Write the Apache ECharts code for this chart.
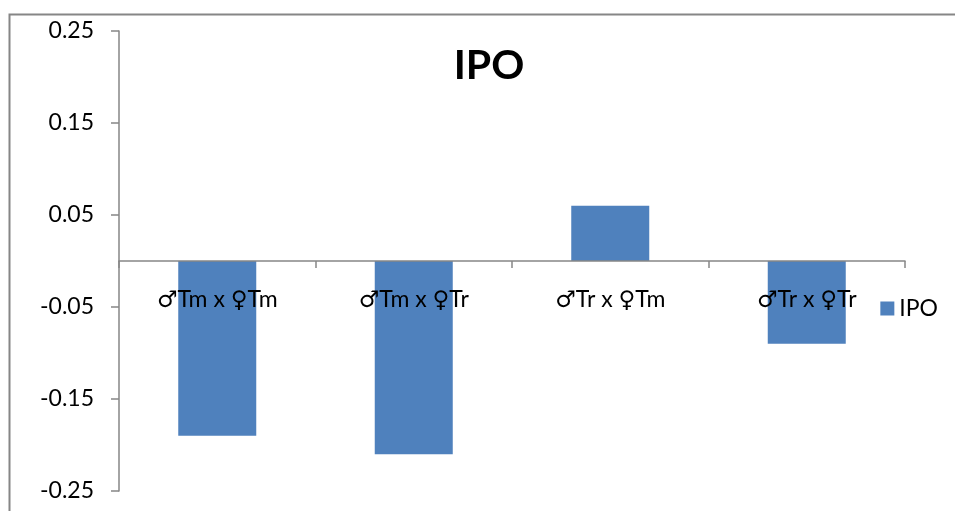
<!DOCTYPE html>
<html>
<head>
<meta charset="utf-8">
<script src="https://cdn.jsdelivr.net/npm/echarts@6/dist/echarts.min.js"></script>
<style>
  html, body { margin: 0; padding: 0; background: #fff; }
  #chart { width: 955px; height: 511px; }
</style>
</head>
<body>
<div id="chart"></div>
<script>
const categories = ['♂Tm x ♀Tm', '♂Tm x ♀Tr', '♂Tr x ♀Tm', '♂Tr x ♀Tr']
const ipoValues = [-0.19, -0.21, 0.06, -0.09]
const seriesName = 'IPO'

const font = 'Lato, "Open Sans", "DejaVu Sans", sans-serif'
const axisGrey = '#868686'

const chart = echarts.init(document.getElementById('chart'))

// the category axis sits at zero: 0.25 of a 0.5 range below the top of the plot
const plotTop = 31
const plotBottom = 20
const plotHeight = 511 - plotTop - plotBottom

const option = {
  backgroundColor: '#fff',
  animation: false,
  title: {
    text: 'IPO',
    left: 484,
    top: 40,
    textAlign: 'center',
    textStyle: { fontFamily: font, fontSize: 41, fontWeight: 'bold', color: '#000' },
  },
  legend: {
    data: [seriesName],
    right: 12,
    top: 292,
    itemWidth: 14,
    itemHeight: 14,
    itemGap: 7,
    icon: 'rect',
    textStyle: { fontFamily: font, fontSize: 23, color: '#000' },
  },
  graphic: [
    {
      type: 'rect',
      shape: { x: 9.5, y: 14.5, width: 960, height: 520 },
      style: { fill: 'none', stroke: axisGrey, lineWidth: 2 },
      silent: true,
    },
  ],
  grid: { left: 119, right: 50, top: plotTop, bottom: plotBottom, outerBoundsMode: 'none' },
  xAxis: {
    type: 'category',
    data: categories,
    position: 'bottom',
    offset: -plotHeight / 2,
    axisLine: { onZero: false, lineStyle: { color: axisGrey, width: 1.5 } },
    axisTick: { show: true, alignWithLabel: false, length: 7, lineStyle: { color: axisGrey, width: 1.5 } },
    axisLabel: { fontFamily: font, fontSize: 23, color: '#000', margin: 27, interval: 0 },
    z: 10,
  },
  yAxis: {
    type: 'value',
    min: -0.25,
    max: 0.25,
    interval: 0.1,
    splitLine: { show: false },
    axisLine: { show: true, lineStyle: { color: axisGrey, width: 1.5 } },
    axisTick: { show: true, length: 8, lineStyle: { color: axisGrey, width: 1.5 } },
    axisLabel: {
      fontFamily: font,
      fontSize: 23,
      color: '#000',
      margin: 25,
      formatter: v => v.toFixed(2),
    },
  },
  series: [
    {
      name: seriesName,
      type: 'bar',
      data: ipoValues,
      barWidth: 78,
      itemStyle: { color: '#4f81bd' },
      z: 2,
    },
  ],
}

chart.setOption(option)
</script>
</body>
</html>
